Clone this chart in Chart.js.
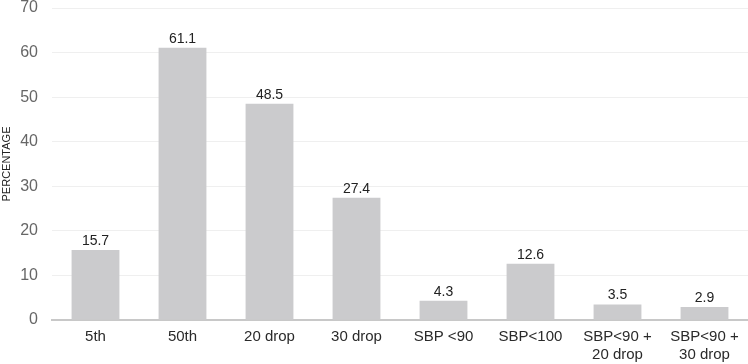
<!DOCTYPE html>
<html lang="en">
<head>
    <meta charset="UTF-8">
    <title>Percentage chart</title>
    <script src="https://cdn.jsdelivr.net/npm/chart.js"></script>
    <style>
        html, body { margin: 0; padding: 0; background: #fff; }
        #wrap { width: 748px; height: 364px; }
    </style>
</head>
<body>
    <div id="wrap"><canvas id="myChart"></canvas></div>
    <script>
        var categories = ['5th', '50th', '20 drop', '30 drop', 'SBP <90', 'SBP<100', ['SBP<90 +', '20 drop'], ['SBP<90 +', '30 drop']];
        var percentages = [15.7, 61.1, 48.5, 27.4, 4.3, 12.6, 3.5, 2.9];
        var yTicks = [0, 10, 20, 30, 40, 50, 60, 70];

        // draw the value above every bar
        const barLabels = {
            id: 'barLabels',
            afterDatasetsDraw(chart) {
                const ctx = chart.ctx;
                ctx.save();
                ctx.font = '14px "Liberation Sans", Arial, sans-serif';
                ctx.fillStyle = '#222';
                ctx.textAlign = 'center';
                ctx.textBaseline = 'bottom';
                chart.getDatasetMeta(0).data.forEach((bar, i) => {
                    ctx.fillText(percentages[i].toFixed(1), bar.x, bar.y - 2);
                });
                ctx.restore();
            }
        };

        const ctx = document.getElementById('myChart');
        new Chart(ctx, {
            type: 'bar',
            data: {
                labels: categories,
                datasets: [{
                    label: 'Percentage',
                    data: percentages,
                    backgroundColor: '#cbcbcd',
                    categoryPercentage: 0.55,
                    barPercentage: 1
                }]
            },
            options: {
                responsive: true,
                maintainAspectRatio: false,
                animation: false,
                layout: { padding: { top: 0, right: 0, left: 0, bottom: 0 } },
                plugins: {
                    legend: { display: false },
                    tooltip: { enabled: false }
                },
                scales: {
                    x: {
                        grid: { display: false, drawTicks: false },
                        border: { color: '#c8c8c8', width: 2 },
                        afterFit: (axis) => { axis.height = 44; },
                        ticks: {
                            color: '#2a2a2a',
                            font: { family: '"Liberation Sans", Arial, sans-serif', size: 15, lineHeight: 1.2 },
                            padding: 8,
                            maxRotation: 0,
                            autoSkip: false
                        }
                    },
                    y: {
                        min: 0,
                        max: 70,
                        afterBuildTicks: (axis) => { axis.ticks = yTicks.map(v => ({ value: v })); },
                        afterFit: (axis) => { axis.width = 52; axis.paddingTop = 8; },
                        grid: { color: '#efefef', drawTicks: false },
                        border: { display: false },
                        ticks: {
                            color: '#666',
                            font: { family: '"Liberation Sans", Arial, sans-serif', size: 16 },
                            padding: 14
                        },
                        title: {
                            display: true,
                            text: 'PERCENTAGE',
                            color: '#222',
                            font: { family: '"Liberation Sans", Arial, sans-serif', size: 11 },
                            padding: { top: 0, bottom: 0 }
                        }
                    }
                }
            },
            plugins: [barLabels]
        });
    </script>
</body>
</html>
